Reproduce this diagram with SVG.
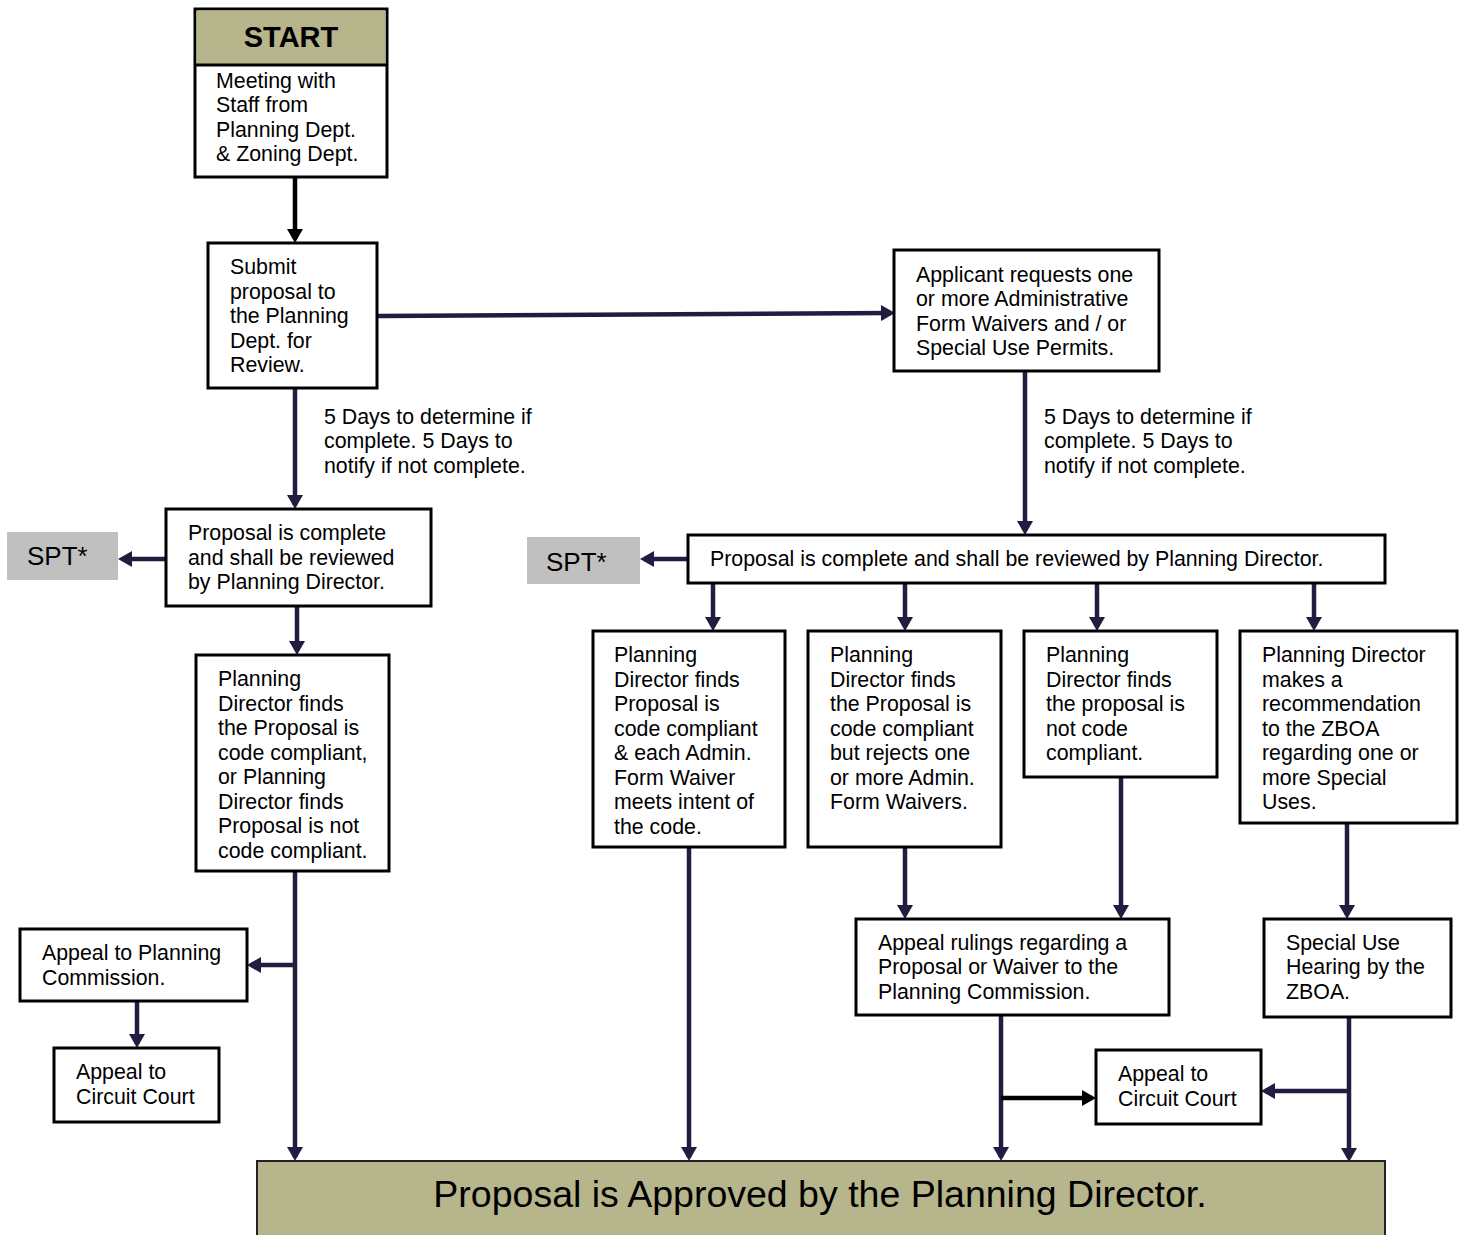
<svg xmlns="http://www.w3.org/2000/svg" width="1464" height="1235" viewBox="0 0 1464 1235">
<style>
text{font-family:"Liberation Sans",Arial,sans-serif;font-size:21.35px;fill:#000}
.box{fill:#fff;stroke:#000;stroke-width:3}
.olive{fill:#b6b58b}
.spt{fill:#c0c0c0}
.c{fill:none;stroke:#231c40;stroke-width:4.5}
.k{fill:none;stroke:#000;stroke-width:4.5}
</style>
<defs>
<marker id="an" markerUnits="userSpaceOnUse" viewBox="0 0 14 16" refX="10" refY="8" markerWidth="14" markerHeight="16" orient="auto"><path d="M0,0 L14,8 L0,16 z" fill="#231c40"/></marker>
<marker id="ak" markerUnits="userSpaceOnUse" viewBox="0 0 14 16" refX="10" refY="8" markerWidth="14" markerHeight="16" orient="auto"><path d="M0,0 L14,8 L0,16 z" fill="#000"/></marker>
</defs>
<rect width="1464" height="1235" fill="#fff"/>

<g id="connectors">
<line class="k" x1="295" y1="177" x2="295" y2="239" marker-end="url(#ak)"/>
<line class="c" x1="378" y1="316" x2="891" y2="313" marker-end="url(#an)"/>
<line class="c" x1="295" y1="388" x2="295" y2="505" marker-end="url(#an)"/>
<line class="c" x1="1025" y1="371" x2="1025" y2="531" marker-end="url(#an)"/>
<line class="c" x1="166" y1="559" x2="122" y2="559" marker-end="url(#an)"/>
<line class="c" x1="688" y1="559" x2="644" y2="559" marker-end="url(#an)"/>
<line class="c" x1="297" y1="606" x2="297" y2="651" marker-end="url(#an)"/>
<line class="c" x1="713" y1="583" x2="713" y2="627" marker-end="url(#an)"/>
<line class="c" x1="905" y1="583" x2="905" y2="627" marker-end="url(#an)"/>
<line class="c" x1="1097" y1="583" x2="1097" y2="627" marker-end="url(#an)"/>
<line class="c" x1="1314" y1="583" x2="1314" y2="627" marker-end="url(#an)"/>
<line class="c" x1="295" y1="871" x2="295" y2="1157" marker-end="url(#an)"/>
<line class="c" x1="295" y1="965" x2="251" y2="965" marker-end="url(#an)"/>
<line class="c" x1="137" y1="1001" x2="137" y2="1044" marker-end="url(#an)"/>
<line class="c" x1="689" y1="847" x2="689" y2="1157" marker-end="url(#an)"/>
<line class="c" x1="905" y1="847" x2="905" y2="915" marker-end="url(#an)"/>
<line class="c" x1="1121" y1="777" x2="1121" y2="915" marker-end="url(#an)"/>
<line class="c" x1="1347" y1="823" x2="1347" y2="915" marker-end="url(#an)"/>
<line class="c" x1="1001" y1="1015" x2="1001" y2="1157" marker-end="url(#an)"/>
<line class="k" x1="1001" y1="1098" x2="1092" y2="1098" marker-end="url(#ak)"/>
<line class="c" x1="1349" y1="1017" x2="1349" y2="1158" marker-end="url(#an)"/>
<line class="c" x1="1349" y1="1091" x2="1265" y2="1091" marker-end="url(#an)"/>
</g>

<g id="start">
<rect class="box" x="195" y="9" width="192" height="168"/>
<rect class="olive" x="196.5" y="10.5" width="189" height="54"/>
<line x1="195" y1="65" x2="387" y2="65" stroke="#000" stroke-width="3"/>
<text x="291" y="47" text-anchor="middle" style="font-weight:bold;font-size:29px">START</text>
<text x="216" y="88">Meeting with</text>
<text x="216" y="112">Staff from</text>
<text x="216" y="137">Planning Dept.</text>
<text x="216" y="161">&amp; Zoning Dept.</text>
</g>

<g id="submit">
<rect class="box" x="208" y="243" width="169" height="145"/>
<text x="230" y="274">Submit</text>
<text x="230" y="299">proposal to</text>
<text x="230" y="323">the Planning</text>
<text x="230" y="348">Dept. for</text>
<text x="230" y="372">Review.</text>
</g>

<g id="applicant">
<rect class="box" x="894" y="250" width="265" height="121"/>
<text x="916" y="282">Applicant requests one</text>
<text x="916" y="306">or more Administrative</text>
<text x="916" y="331">Form Waivers and / or</text>
<text x="916" y="355">Special Use Permits.</text>
</g>

<g id="label-left">
<text x="324" y="424">5 Days to determine if</text>
<text x="324" y="448">complete. 5 Days to</text>
<text x="324" y="473">notify if not complete.</text>
</g>
<g id="label-right">
<text x="1044" y="424">5 Days to determine if</text>
<text x="1044" y="448">complete. 5 Days to</text>
<text x="1044" y="473">notify if not complete.</text>
</g>

<g id="spt-left">
<rect class="spt" x="7" y="532" width="111" height="48"/>
<text x="27" y="565" style="font-size:26px">SPT*</text>
</g>
<g id="complete-left">
<rect class="box" x="166" y="509" width="265" height="97"/>
<text x="188" y="540">Proposal is complete</text>
<text x="188" y="565">and shall be reviewed</text>
<text x="188" y="589">by Planning Director.</text>
</g>

<g id="spt-right">
<rect class="spt" x="527" y="537" width="113" height="47"/>
<text x="546" y="571" style="font-size:26px">SPT*</text>
</g>
<g id="complete-right">
<rect class="box" x="688" y="535" width="697" height="48"/>
<text x="710" y="566">Proposal is complete and shall be reviewed by Planning Director.</text>
</g>

<g id="director-left">
<rect class="box" x="196" y="655" width="193" height="216"/>
<text x="218" y="686">Planning</text>
<text x="218" y="711">Director finds</text>
<text x="218" y="735">the Proposal is</text>
<text x="218" y="760">code compliant,</text>
<text x="218" y="784">or Planning</text>
<text x="218" y="809">Director finds</text>
<text x="218" y="833">Proposal is not</text>
<text x="218" y="858">code compliant.</text>
</g>

<g id="finds-a">
<rect class="box" x="593" y="631" width="192" height="216"/>
<text x="614" y="662">Planning</text>
<text x="614" y="687">Director finds</text>
<text x="614" y="711">Proposal is</text>
<text x="614" y="736">code compliant</text>
<text x="614" y="760">&amp; each Admin.</text>
<text x="614" y="785">Form Waiver</text>
<text x="614" y="809">meets intent of</text>
<text x="614" y="834">the code.</text>
</g>

<g id="finds-b">
<rect class="box" x="808" y="631" width="193" height="216"/>
<text x="830" y="662">Planning</text>
<text x="830" y="687">Director finds</text>
<text x="830" y="711">the Proposal is</text>
<text x="830" y="736">code compliant</text>
<text x="830" y="760">but rejects one</text>
<text x="830" y="785">or more Admin.</text>
<text x="830" y="809">Form Waivers.</text>
</g>

<g id="finds-c">
<rect class="box" x="1024" y="631" width="193" height="146"/>
<text x="1046" y="662">Planning</text>
<text x="1046" y="687">Director finds</text>
<text x="1046" y="711">the proposal is</text>
<text x="1046" y="736">not code</text>
<text x="1046" y="760">compliant.</text>
</g>

<g id="recommend-d">
<rect class="box" x="1240" y="631" width="217" height="192"/>
<text x="1262" y="662">Planning Director</text>
<text x="1262" y="687">makes a</text>
<text x="1262" y="711">recommendation</text>
<text x="1262" y="736">to the ZBOA</text>
<text x="1262" y="760">regarding one or</text>
<text x="1262" y="785">more Special</text>
<text x="1262" y="809">Uses.</text>
</g>

<g id="appeal-pc">
<rect class="box" x="20" y="929" width="227" height="72"/>
<text x="42" y="960">Appeal to Planning</text>
<text x="42" y="985">Commission.</text>
</g>

<g id="court-left">
<rect class="box" x="54" y="1048" width="165" height="74"/>
<text x="76" y="1079">Appeal to</text>
<text x="76" y="1104">Circuit Court</text>
</g>

<g id="appeal-rulings">
<rect class="box" x="856" y="919" width="313" height="96"/>
<text x="878" y="950">Appeal rulings regarding a</text>
<text x="878" y="974">Proposal or Waiver to the</text>
<text x="878" y="999">Planning Commission.</text>
</g>

<g id="special-use">
<rect class="box" x="1264" y="919" width="187" height="98"/>
<text x="1286" y="950">Special Use</text>
<text x="1286" y="974">Hearing by the</text>
<text x="1286" y="999">ZBOA.</text>
</g>

<g id="court-right">
<rect class="box" x="1096" y="1050" width="165" height="74"/>
<text x="1118" y="1081">Appeal to</text>
<text x="1118" y="1106">Circuit Court</text>
</g>

<g id="approved">
<rect x="257" y="1161" width="1128" height="80" fill="#b6b58b" stroke="#222" stroke-width="2"/>
<text x="820" y="1207" text-anchor="middle" style="font-size:37.5px">Proposal is Approved by the Planning Director.</text>
</g>
</svg>
